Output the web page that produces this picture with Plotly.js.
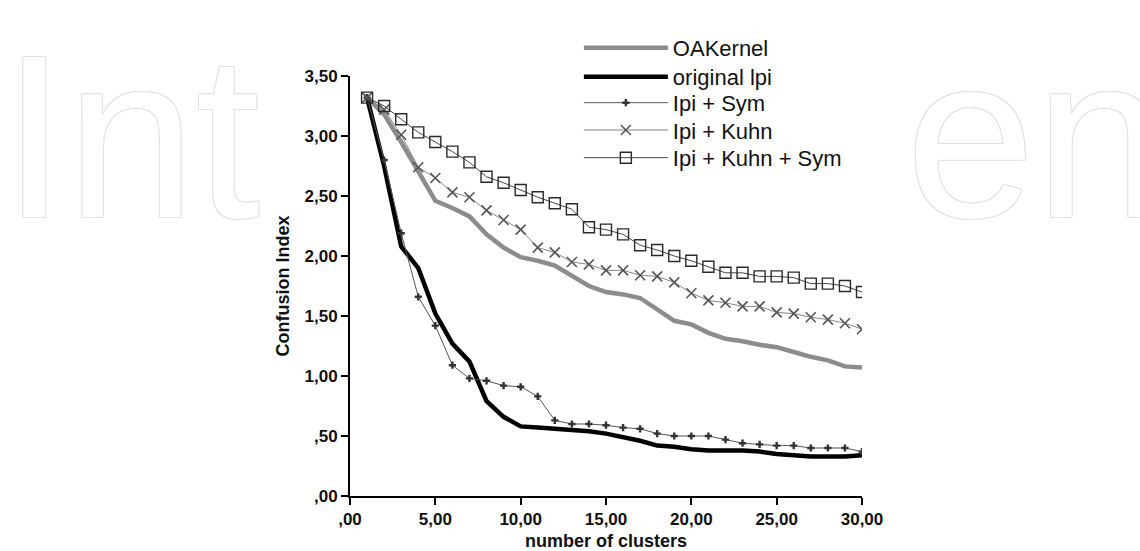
<!DOCTYPE html>
<html>
<head>
<meta charset="utf-8">
<script src="https://cdn.plot.ly/plotly-3.0.1.min.js"></script>
<style>html,body{margin:0;padding:0;background:#fff;}#chart{width:1140px;height:551px;}</style>
</head>
<body>
<div id="chart"></div>
<script>
// number of clusters
var clusters = [1,2,3,4,5,6,7,8,9,10,11,12,13,14,15,16,17,18,19,20,21,22,23,24,25,26,27,28,29,30];

var oaKernel = [3.32,3.18,2.95,2.70,2.46,2.40,2.33,2.18,2.07,1.99,1.96,1.92,1.84,1.75,1.70,1.68,1.65,1.55,1.46,1.43,1.36,1.31,1.29,1.26,1.24,1.20,1.16,1.13,1.08,1.07];
var originalLpi = [3.32,2.75,2.08,1.90,1.52,1.27,1.12,0.79,0.66,0.58,0.57,0.56,0.55,0.54,0.52,0.49,0.46,0.42,0.41,0.39,0.38,0.38,0.38,0.37,0.35,0.34,0.33,0.33,0.33,0.34];
var ipiSym = [3.32,2.80,2.19,1.66,1.42,1.09,0.98,0.96,0.92,0.91,0.83,0.63,0.60,0.60,0.59,0.57,0.56,0.52,0.50,0.50,0.50,0.47,0.44,0.43,0.42,0.42,0.40,0.40,0.40,0.37];
var ipiKuhn = [3.32,3.22,3.01,2.74,2.65,2.53,2.49,2.38,2.30,2.22,2.07,2.03,1.95,1.93,1.88,1.88,1.84,1.83,1.78,1.69,1.63,1.61,1.58,1.58,1.53,1.52,1.49,1.47,1.44,1.39];
var ipiKuhnSym = [3.32,3.25,3.14,3.03,2.95,2.87,2.78,2.66,2.61,2.55,2.49,2.44,2.39,2.24,2.22,2.18,2.09,2.05,2.00,1.96,1.91,1.86,1.86,1.83,1.83,1.82,1.77,1.77,1.75,1.70];

var seriesNames = ["OAKernel","original lpi","Ipi + Sym","Ipi + Kuhn","Ipi + Kuhn + Sym"];

var xTickVals = [0,5,10,15,20,25,30];
var xTickText = [",00","5,00","10,00","15,00","20,00","25,00","30,00"];
var yTickVals = [0,0.5,1,1.5,2,2.5,3,3.5];
var yTickText = [",00",",50","1,00","1,50","2,00","2,50","3,00","3,50"];

var watermarkLeft = "Int";
var watermarkRight = "en";

var traces = [
  {x: clusters, y: oaKernel, name: seriesNames[0], mode: "lines", legend: "legend",
   line: {color: "#8c8c8c", width: 4.5}},
  {x: clusters, y: originalLpi, name: seriesNames[1], mode: "lines", legend: "legend2",
   line: {color: "#000000", width: 4.5}},
  {x: clusters, y: ipiSym, name: seriesNames[2], mode: "lines+markers", legend: "legend3",
   line: {color: "#555555", width: 1},
   marker: {symbol: "cross", size: 6, color: "#333333"}},
  {x: clusters, y: ipiKuhn, name: seriesNames[3], mode: "lines+markers", legend: "legend4",
   line: {color: "#888888", width: 1},
   marker: {symbol: "x-thin-open", size: 10, color: "#555555", line: {color: "#555555", width: 1.6}}},
  {x: clusters, y: ipiKuhnSym, name: seriesNames[4], mode: "lines+markers", legend: "legend5",
   line: {color: "#444444", width: 1},
   marker: {symbol: "square-open", size: 11, color: "#2a2a2a", line: {color: "#2a2a2a", width: 1.4}}}
];

var tickFont = {family: "Liberation Sans, Arial, sans-serif", size: 17, color: "#111", weight: "bold"};
var titleFont = {family: "Liberation Sans, Arial, sans-serif", size: 18, color: "#111", weight: "bold"};
var legendFont = {family: "Liberation Sans, Arial, sans-serif", size: 22, color: "#111"};
var wmShadow = "1px 1px 0 #e2e2e2, -1px -1px 0 #e2e2e2, 1px -1px 0 #e2e2e2, -1px 1px 0 #e2e2e2";

function legendBox(yTop) {
  return {x: 0.447, y: yTop, xanchor: "left", yanchor: "top",
          bgcolor: "rgba(0,0,0,0)", itemwidth: 84, font: legendFont};
}

var layout = {
  width: 1140, height: 551,
  paper_bgcolor: "#ffffff", plot_bgcolor: "#ffffff",
  margin: {l: 350, r: 278, t: 76, b: 55, pad: 0},
  showlegend: true,
  legend: legendBox(1.117),
  legend2: legendBox(1.048),
  legend3: legendBox(0.986),
  legend4: legendBox(0.921),
  legend5: legendBox(0.855),
  xaxis: {range: [0, 30], tickvals: xTickVals, ticktext: xTickText,
          showline: true, linecolor: "#000", linewidth: 2, mirror: false,
          ticks: "outside", ticklen: 7, tickwidth: 2, tickcolor: "#000",
          showgrid: false, zeroline: false, tickfont: tickFont,
          title: {text: "number of clusters", font: titleFont, standoff: 6}},
  yaxis: {range: [0, 3.5], tickvals: yTickVals, ticktext: yTickText,
          showline: true, linecolor: "#000", linewidth: 2, mirror: false,
          ticks: "outside", ticklen: 7, tickwidth: 2, tickcolor: "#000",
          showgrid: false, zeroline: false, tickfont: tickFont,
          title: {text: "Confusion Index", font: titleFont, standoff: 10}},
  annotations: [
    {xref: "paper", yref: "paper", x: -0.683, y: 1.169, xanchor: "left", yanchor: "top",
     text: watermarkLeft, showarrow: false,
     font: {family: "Liberation Sans, Arial, sans-serif", size: 232, color: "#ffffff", shadow: wmShadow}},
    {xref: "paper", yref: "paper", x: 1.082, y: 1.169, xanchor: "left", yanchor: "top",
     text: watermarkRight, showarrow: false,
     font: {family: "Liberation Sans, Arial, sans-serif", size: 232, color: "#ffffff", shadow: wmShadow}}
  ]
};

Plotly.newPlot("chart", traces, layout, {displayModeBar: false, staticPlot: true});
</script>
</body>
</html>
